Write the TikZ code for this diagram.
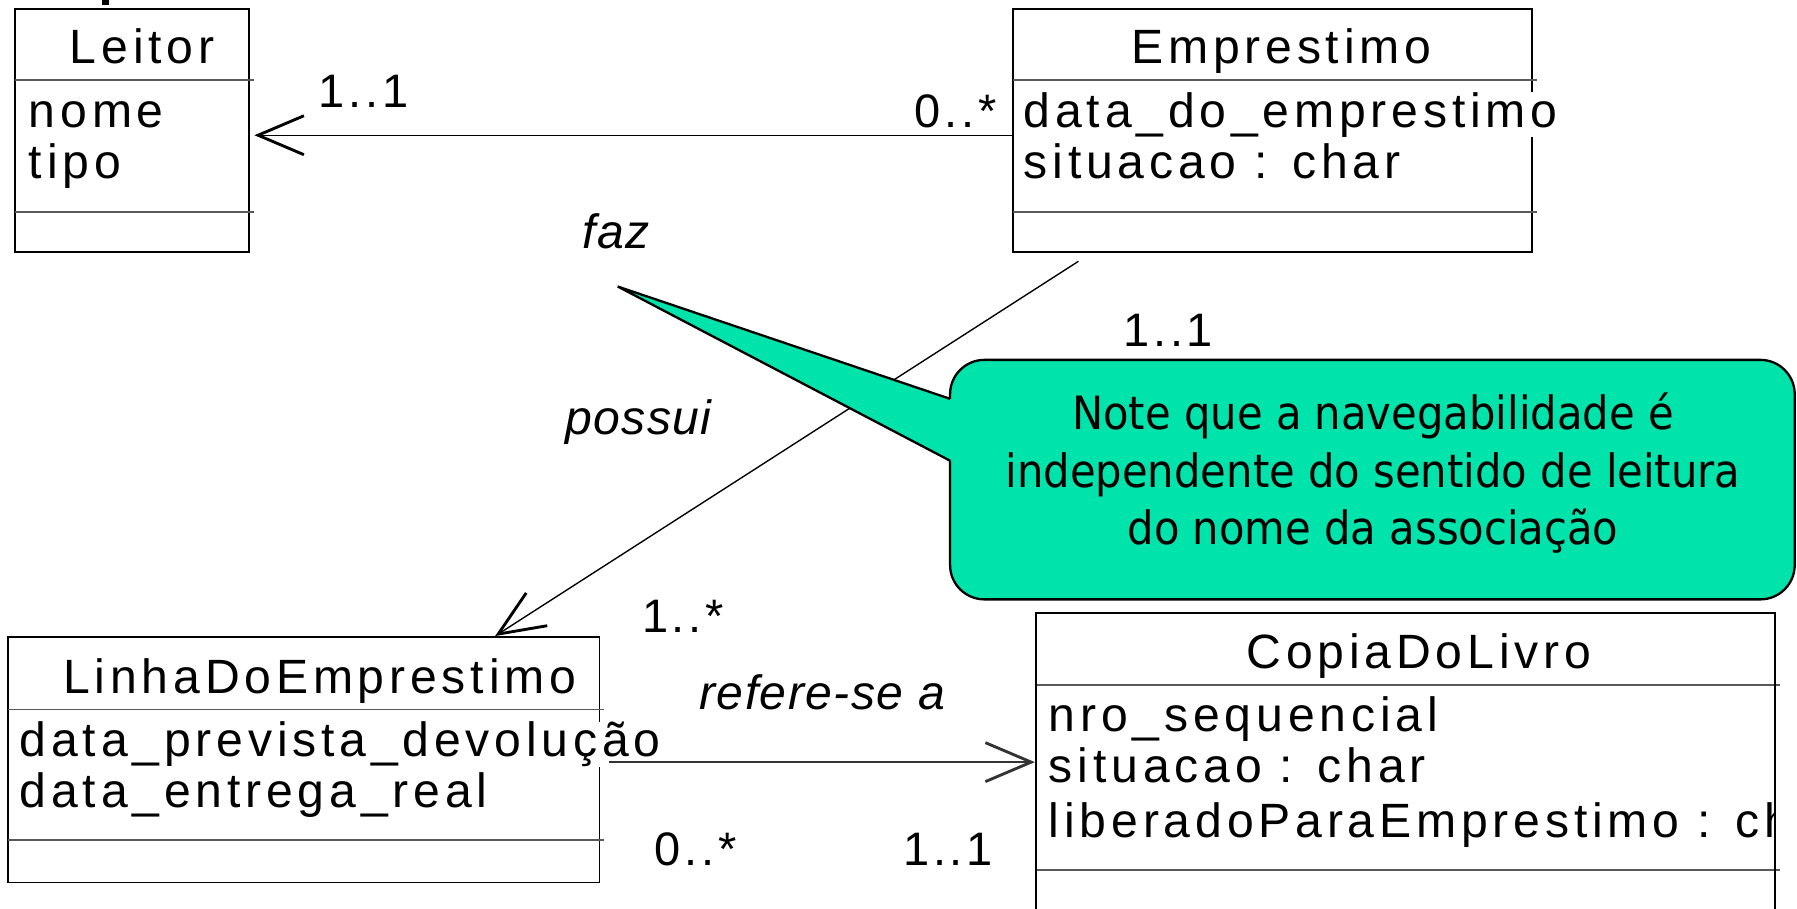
\documentclass[tikz,border=0pt]{standalone}
\usepackage{fontspec}
\setmainfont{Liberation Sans}
\newfontfamily\umlfont[LetterSpace=10]{Liberation Sans}
\newfontfamily\multfont[LetterSpace=8]{Liberation Sans}
\newfontfamily\labelfont[LetterSpace=3]{Liberation Sans}
\newfontfamily\notefont[FakeStretch=0.91]{DejaVu Sans}
\usetikzlibrary{arrows.meta,calc}
\definecolor{notegreen}{RGB}{0,227,170}
\begin{document}
\begin{tikzpicture}[x=1pt,y=-1pt,
  classbox/.style={draw, line width=1.5pt, inner sep=0pt, outer sep=0pt, anchor=north west},
  sep/.style={line width=1.5pt, black!65},
  attr/.style={anchor=base west, inner sep=0pt, fill=white, font=\umlfont\fontsize{42}{46}\selectfont},
  ctitle/.style={anchor=base, inner sep=0pt, font=\umlfont\fontsize{42}{46}\selectfont},
  mult/.style={anchor=base west, inner sep=0pt, font=\multfont\fontsize{41}{46}\selectfont},
  assoclabel/.style={anchor=base west, inner sep=0pt, font=\labelfont\itshape\fontsize{42}{46}\selectfont},
  assoc/.style={line width=1.2pt},
  navhead/.style={-{Straight Barb[length=40pt,width=34pt,line width=2.5pt]}},
  notetext/.style={anchor=base, inner sep=0pt, font=\notefont\fontsize{40}{50}\selectfont},
  calloutbox/.style={fill=notegreen, draw=black, line width=2pt, rounded corners=30pt},
  calloutedge/.style={draw=black, line width=2pt, line join=miter}
]
\useasboundingbox (0,0) rectangle (1568,792.3);

% fragment of cut-off text at top
\fill (89,0) rectangle (95,4.5);

% class boxes
\node[classbox, minimum width=204pt, minimum height=212pt] (Leit) at (13,8) {};
\node[classbox, minimum width=453pt, minimum height=212pt] (Emp) at (884,8) {};
\node[classbox, minimum width=516pt, minimum height=214pt] (Lin) at (7,556) {};
\node[inner sep=0pt, outer sep=0pt, anchor=north west, minimum width=645pt, minimum height=270pt] (Cop) at (904,535) {};

% separators
\draw[sep] ($(Leit.north west)+(0,62)$) -- ++(209,0);
\draw[sep] ($(Leit.north west)+(0,177)$) -- ++(209,0);
\draw[sep] ($(Emp.north west)+(0,62)$) -- ++(457,0);
\draw[sep] ($(Emp.north west)+(0,177)$) -- ++(457,0);
\draw[sep] ($(Lin.north west)+(0,63)$) -- ++(520,0);
\draw[sep] ($(Lin.north west)+(0,177)$) -- ++(520,0);
\draw[sep] ($(Cop.north west)+(0,63)$) -- ++(649,0);
\draw[sep] ($(Cop.north west)+(0,224)$) -- ++(649,0);

% titles
\node[ctitle] (tLeit) at (124,55) {Leitor};
\node[ctitle] (tEmp) at (1118,55) {Emprestimo};
\node[ctitle] (tLin) at (279,605) {LinhaDoEmprestimo};
\node[ctitle] (tCop) at (1238,583) {CopiaDoLivro};

% attributes
\node[attr] (aL1) at (25,111) {nome};
\node[attr] (aL2) at (25,156) {tipo};
\node[attr] (aE1) at (893,111) {data\_do\_emprestimo};
\node[attr] (aE2) at (893,156) {situacao : char};
\node[attr] (aN1) at (17,660) {data\_prevista\_devolução};
\node[attr] (aN2) at (17,705) {data\_entrega\_real};
\node[attr] (aC1) at (915,638) {nro\_sequencial};
\node[attr] (aC2) at (915,683) {situacao : char};
\begin{scope}
  \clip (904,690) rectangle (1548,752);
  \node[attr] (aC3) at (915,731) {liberadoParaEmprestimo : char};
\end{scope}

% open-bottom CopiaDoLivro box
\draw[line width=1.5pt] (Cop.south west) -- (Cop.north west) -- (Cop.north east) -- (Cop.south east);

% associations
\draw[assoc, navhead] ($(Emp.west)+(0,4)$) -- ($(Leit.east)+(5,4)$);
\draw[assoc, navhead] ($(Emp.south west)+(57,8)$) -- ($(Lin.north west)+(425,-1)$);
\draw[assoc, black!80, line width=1.5pt, navhead] ($(Lin.north east)+(8,109)$) -- ($(Cop.north west)+(-1,130)$);

% multiplicities and labels
\node[mult] (m1) at (278,94) {1..1};
\node[mult] (m2) at (798,111) {0..*};
\node[mult] (m3) at (980,302) {1..1};
\node[mult] (m4) at (560,552) {1..*};
\node[mult] (m5) at (571,755) {0..*};
\node[mult] (m6) at (788,755) {1..1};
\node[assoclabel] (lfaz) at (508,217) {faz};
\node[assoclabel] (lpos) at (493,379) {possui};
\node[assoclabel] (lref) at (610,619) {refere-se a};

% callout: rounded box, then the wedge merged into it
\path[calloutbox] (829,314) rectangle (1566,523);
\fill[notegreen] (539,250) -- (829,348) -- (837,348) -- (837,402) -- (829,402) -- cycle;
\draw[calloutedge] (829,348) -- (539,250) -- (829,402);
\node[notetext] (n1) at (1198,375) {Note que a navegabilidade é};
\node[notetext] (n2) at (1198,425) {independente do sentido de leitura};
\node[notetext] (n3) at (1198,475) {do nome da associação};
\end{tikzpicture}
\end{document}
